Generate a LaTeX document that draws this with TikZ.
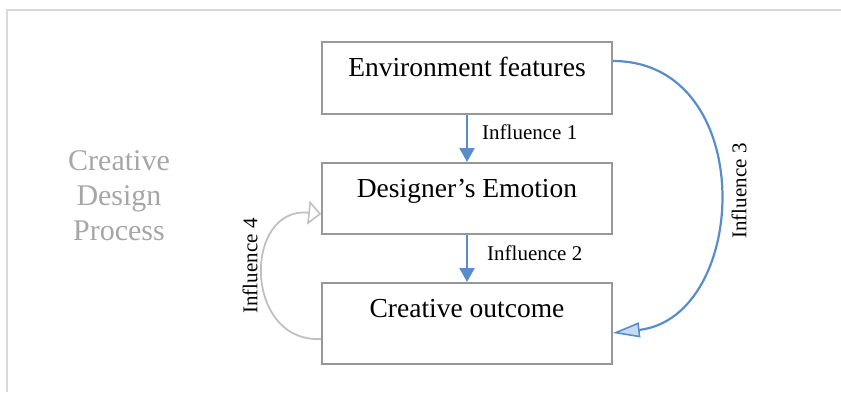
\documentclass[tikz,border=0pt]{standalone}
\usepackage{fontspec}
\setmainfont{Liberation Serif}
\usetikzlibrary{arrows.meta,calc}

\definecolor{framegray}{RGB}{217,217,217}
\definecolor{boxgray}{RGB}{152,152,152}
\definecolor{loopgray}{RGB}{192,192,192}
\definecolor{titlegray}{RGB}{166,166,166}
\definecolor{flowblue}{RGB}{88,141,203}
\definecolor{tipblue}{RGB}{200,218,240}

\tikzset{
  stagebox/.style={draw=boxgray, line width=1.6pt, rectangle, anchor=north,
    minimum width=290pt, inner xsep=0pt, inner ysep=0pt,
    text height=35pt, font=\fontsize{27.5}{30}\selectfont},
  flowarrow/.style={draw=flowblue, line width=2.4pt,
    -{Triangle[length=14pt, width=15pt]}},
  flowlabel/.style={font=\fontsize{21}{24}\selectfont, inner sep=0pt},
}

\begin{document}
\begin{tikzpicture}[x=1pt, y=-1pt]
  \useasboundingbox (0,0) rectangle (841,392);

  % outer frame, running off the right and bottom edges
  \draw[framegray, line width=1.6pt] (7,392) -- (7,10) -- (841,10);

  % side title (base anchor sits on the last line)
  \node[text=titlegray, align=center, anchor=base, inner sep=0pt,
        font=\fontsize{30}{35}\selectfont] (title) at (119,240)
        {Creative\\Design\\Process};

  % the three stages
  \node[stagebox, text depth=37pt] (env) at (467,41) {Environment features};
  \node[stagebox, text depth=36pt] (emo) at (467,162) {Designer’s Emotion};
  \node[stagebox, text depth=46pt] (out) at (467,282) {Creative outcome};

  % direct influences
  \draw[flowarrow] (env.south) -- (emo.north);
  \draw[flowarrow] (emo.south) -- (out.north);
  \node[flowlabel, anchor=base west] (inf1) at (482,139) {Influence 1};
  \node[flowlabel, anchor=base west] (inf2) at (487,260) {Influence 2};

  % influence 3: environment straight to the outcome
  \coordinate (env3) at ($(env.north east)+(0,20)$);
  \coordinate (out3) at ($(out.north east)+(0,51)$);
  \draw[flowblue, line width=2.2pt,
        -{Triangle[length=27pt, width=15pt, fill=tipblue, line width=1.6pt]}]
    (env3) .. controls (759,61) and (750,317) .. (out3);
  \node[flowlabel, rotate=90] (inf3) at (739,191) {Influence 3};

  % influence 4: outcome feeding back into emotion
  \coordinate (out4) at ($(out.north west)+(0,57)$);
  \coordinate (emo4) at ($(emo.north west)+(0,52)$);
  \draw[loopgray, line width=1.8pt,
        -{Triangle[open, length=13pt, width=24pt, line width=1.6pt]}]
    (out4) .. controls (243,343) and (243,206) .. (emo4);
  \node[flowlabel, rotate=90] (inf4) at (250,266) {Influence 4};
\end{tikzpicture}
\end{document}
